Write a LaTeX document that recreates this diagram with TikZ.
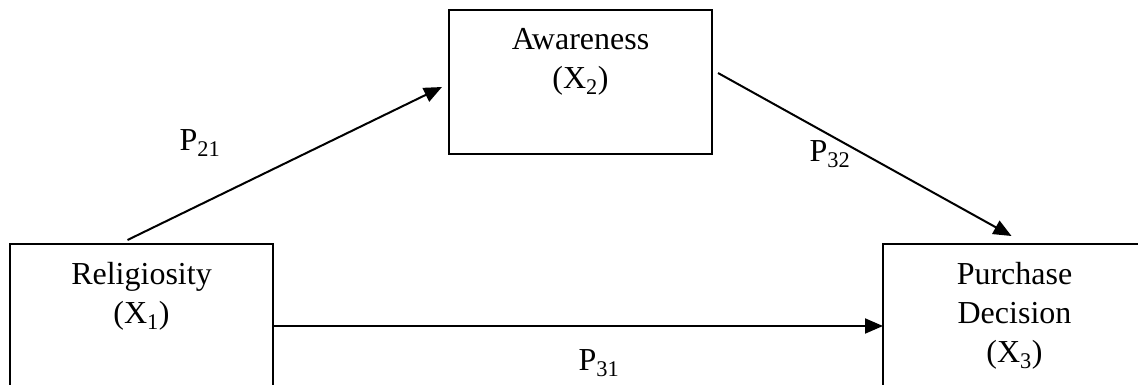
\documentclass[tikz,border=0pt]{standalone}
\usepackage{fontspec}
\setmainfont{Liberation Serif}
\usetikzlibrary{arrows.meta}
\tikzset{
  varbox/.style={draw=black,line width=2pt,minimum width=263pt,inner sep=0pt,outer sep=0pt},
  vartext/.style={inner sep=0pt,outer sep=0pt,anchor=north,align=center,font=\fontsize{32}{39}\selectfont},
  coef/.style={inner sep=0pt,outer sep=0pt,anchor=base,font=\fontsize{32}{39}\selectfont},
  link/.style={draw=black,line width=2pt,-{Triangle[length=18pt,width=15pt]}}
}
\begin{document}
\begin{tikzpicture}[x=1pt,y=-1pt]
\path[use as bounding box] (0,0) rectangle (1138,385);
\clip (0,0) rectangle (1138,385);
% variables
\node[varbox,minimum height=164pt,anchor=north west] (rel) at (10,244) {};
\node[varbox,minimum height=144pt,anchor=north west] (aw) at (449,10) {};
\node[varbox,minimum height=164pt,anchor=north west] (pd) at (883,244) {};
\node[vartext] (reltext) at ([yshift=-18pt]rel.north) {Religiosity\\(X\textsubscript{1})};
\node[vartext] (awtext) at ([yshift=-18pt]aw.north) {Awareness\\(X\textsubscript{2})};
\node[vartext] (pdtext) at ([yshift=-18pt]pd.north) {Purchase\\Decision\\(X\textsubscript{3})};
% paths
\draw[link] ([xshift=-14pt,yshift=4pt]rel.north) -- ([xshift=-7pt,yshift=-5pt]aw.west);
\draw[link] ([xshift=6pt,yshift=9pt]aw.east) -- ([xshift=-3pt,yshift=8pt]pd.north);
\draw[link] (rel.east) -- (pd.west);
% coefficients
\node[coef] (p21) at (200,150) {P\textsubscript{21}};
\node[coef] (p32) at (830,161) {P\textsubscript{32}};
\node[coef] (p31) at (599,370) {P\textsubscript{31}};
\end{tikzpicture}
\end{document}
